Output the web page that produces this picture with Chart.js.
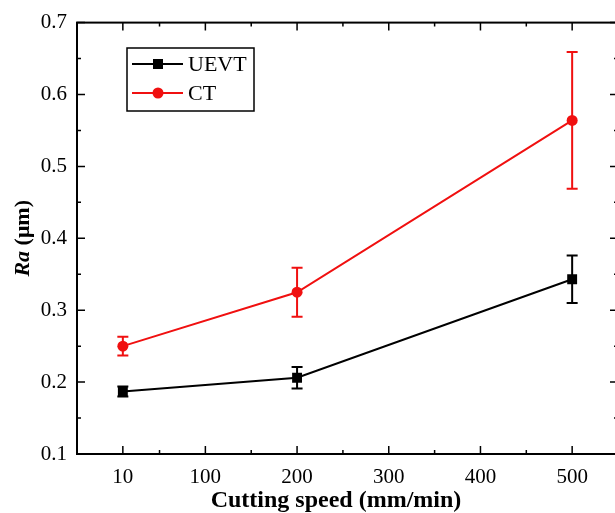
<!DOCTYPE html>
<html><head><meta charset="utf-8">
<script src="https://cdn.jsdelivr.net/npm/chart.js@4.4.1/dist/chart.umd.min.js"></script>
<style>html,body{margin:0;padding:0;overflow:hidden;background:#fff}#wrap{width:625px;height:513px;position:relative}</style>
</head><body><div id="wrap"><canvas id="c"></canvas></div>
<script>
const speeds = [10, 200, 500];
const uevt = [0.187, 0.206, 0.343];
const uevtErr = [0.007, 0.015, 0.033];
const ct = [0.250, 0.325, 0.564];
const ctErr = [0.013, 0.034, 0.095];
const xTicks = [10, 100, 200, 300, 400, 500];
const xMinor = [50, 150, 250, 350, 450];
const yTicks = [0.1, 0.2, 0.3, 0.4, 0.5, 0.6, 0.7];
const yMinor = [0.15, 0.25, 0.35, 0.45, 0.55, 0.65];
const seriesNames = ['UEVT', 'CT'];
const xTitle = 'Cutting speed (mm/min)';
const yTitleItalic = 'Ra';
const yTitleRest = ' (\u03bcm)';

const SERIF = '"Liberation Serif", "DejaVu Serif", serif';
const errs = [uevtErr, ctErr];

const errorBars = {
  id: 'errorBars',
  afterDatasetsDraw(chart) {
    const ctx = chart.ctx, ys = chart.scales.y, xs = chart.scales.x;
    chart.data.datasets.forEach((ds, di) => {
      ctx.save();
      ctx.strokeStyle = ds.borderColor; ctx.lineWidth = 2;
      ds.data.forEach((p, i) => {
        const e = errs[di][i];
        const px = xs.getPixelForValue(p.x);
        const top = ys.getPixelForValue(p.y + e), bot = ys.getPixelForValue(p.y - e);
        ctx.beginPath();
        ctx.moveTo(px, top); ctx.lineTo(px, bot);
        ctx.moveTo(px - 5.5, top); ctx.lineTo(px + 5.5, top);
        ctx.moveTo(px - 5.5, bot); ctx.lineTo(px + 5.5, bot);
        ctx.stroke();
      });
      ctx.restore();
    });
  }
};

const frame = {
  id: 'frame',
  afterDraw(chart) {
    const ctx = chart.ctx, a = chart.chartArea, xs = chart.scales.x, ys = chart.scales.y;
    ctx.save();
    ctx.strokeStyle = '#000'; ctx.lineWidth = 2;
    ctx.strokeRect(a.left, a.top, a.right - a.left, a.bottom - a.top);
    ctx.lineWidth = 1.5;
    ctx.beginPath();
    const tick = (vals, len, isX) => vals.forEach(v => {
      if (isX) {
        const px = xs.getPixelForValue(v);
        ctx.moveTo(px, a.bottom); ctx.lineTo(px, a.bottom - len);
        ctx.moveTo(px, a.top); ctx.lineTo(px, a.top + len);
      } else {
        const py = ys.getPixelForValue(v);
        ctx.moveTo(a.left, py); ctx.lineTo(a.left + len, py);
        ctx.moveTo(a.right, py); ctx.lineTo(a.right - len, py);
      }
    });
    tick(xTicks, 8, true); tick(xMinor, 4, true);
    tick(yTicks, 8, false); tick(yMinor, 4, false);
    ctx.stroke();

    // legend
    const lx = 127, ly = 48, lw = 127, lh = 63;
    ctx.lineWidth = 1.5; ctx.strokeStyle = '#000';
    ctx.strokeRect(lx, ly, lw, lh);
    chart.data.datasets.forEach((ds, i) => {
      const yy = i === 0 ? 64 : 93;
      ctx.strokeStyle = ds.borderColor; ctx.lineWidth = 2;
      ctx.beginPath(); ctx.moveTo(132, yy); ctx.lineTo(183, yy); ctx.stroke();
      ctx.fillStyle = ds.borderColor;
      if (ds.pointStyle === 'rect') ctx.fillRect(158 - 5, yy - 5, 10, 10);
      else { ctx.beginPath(); ctx.arc(158, yy, 5.5, 0, Math.PI * 2); ctx.fill(); }
      ctx.fillStyle = '#000';
      ctx.font = '22px ' + SERIF;
      ctx.textBaseline = 'middle'; ctx.textAlign = 'left';
      ctx.fillText(ds.label, 188, yy + 1);
    });

    // x title
    ctx.fillStyle = '#000';
    ctx.font = 'bold 24px ' + SERIF;
    ctx.textAlign = 'center'; ctx.textBaseline = 'middle';
    ctx.fillText(xTitle, 336, 501);

    // y title
    ctx.save();
    ctx.translate(23, (a.top + a.bottom) / 2);
    ctx.rotate(-Math.PI / 2);
    const f1 = 'italic bold 22px ' + SERIF, f2 = 'bold 22px ' + SERIF;
    ctx.font = f1; const w1 = ctx.measureText(yTitleItalic).width;
    ctx.font = f2; const w2 = ctx.measureText(yTitleRest).width;
    const start = -(w1 + w2) / 2;
    ctx.textAlign = 'left';
    ctx.font = f1; ctx.fillText(yTitleItalic, start, 0);
    ctx.font = f2; ctx.fillText(yTitleRest, start + w1, 0);
    ctx.restore();
    ctx.restore();
  }
};

new Chart(document.getElementById('c'), {
  type: 'line',
  data: {
    datasets: [
      { label: seriesNames[0], data: speeds.map((s, i) => ({ x: s, y: uevt[i] })),
        borderColor: '#000000', backgroundColor: '#000000', pointStyle: 'rect',
        pointRadius: 7, pointBorderWidth: 0, borderWidth: 2, tension: 0 },
      { label: seriesNames[1], data: speeds.map((s, i) => ({ x: s, y: ct[i] })),
        borderColor: '#f01010', backgroundColor: '#f01010', pointStyle: 'circle',
        pointRadius: 5.5, pointBorderWidth: 0, borderWidth: 2, tension: 0 }
    ]
  },
  options: {
    responsive: true, maintainAspectRatio: false, animation: false,
    layout: { padding: { top: 20, right: 7, left: 0, bottom: 0 } },
    plugins: { legend: { display: false }, tooltip: { enabled: false } },
    scales: {
      x: {
        type: 'linear', min: -40, max: 550,
        afterBuildTicks: s => { s.ticks = xTicks.map(v => ({ value: v })); },
        afterFit: s => { s.height = 59; },
        grid: { display: false, drawTicks: false }, border: { display: false },
        ticks: { font: { family: SERIF, size: 21 }, color: '#000', padding: 11, maxRotation: 0, autoSkip: false }
      },
      y: {
        type: 'linear', min: 0.1, max: 0.7,
        afterBuildTicks: s => { s.ticks = yTicks.map(v => ({ value: v })); },
        afterFit: s => { s.width = 77; },
        grid: { display: false, drawTicks: false }, border: { display: false },
        ticks: { font: { family: SERIF, size: 21 }, color: '#000', padding: 10,
          callback: v => v.toFixed(1) }
      }
    }
  },
  plugins: [errorBars, frame]
});
</script>
</body></html>
